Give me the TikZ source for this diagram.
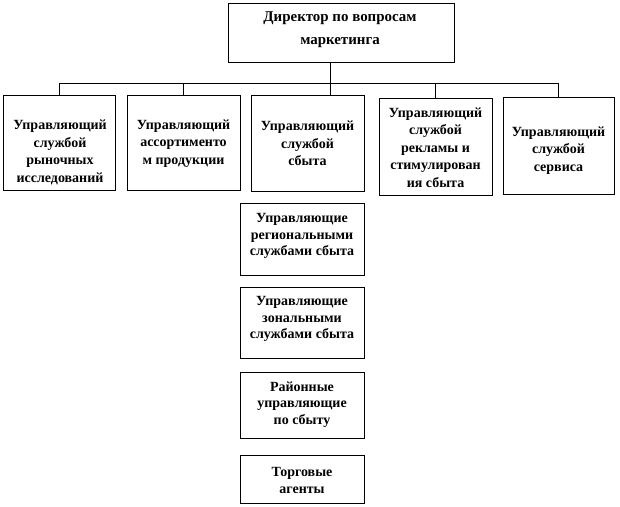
\documentclass[tikz,border=0pt]{standalone}
\usepackage{fontspec}
\setmainfont{Liberation Serif}
\begin{document}
\begin{tikzpicture}[x=0.75pt,y=-0.75pt,
  box/.style={draw,line width=0.7pt,inner sep=0pt},
  txt/.style={align=center,inner sep=0pt,font=\fontsize{10.5}{13.2}\selectfont\bfseries},
  ltxt/.style={txt,font=\fontsize{10.5}{12.4}\selectfont\bfseries},
  conn/.style={line width=0.7pt}]
\useasboundingbox (0,0) rectangle (620,506);
% boxes
\node[box,minimum width=169.5pt,minimum height=44.25pt] (d) at (341,32.5) {};
\node[box,minimum width=84pt,minimum height=71.25pt] (b1) at (59,142.5) {};
\node[box,minimum width=84.75pt,minimum height=71.25pt] (b2) at (183.5,143) {};
\node[box,minimum width=84.75pt,minimum height=72pt] (b3) at (307.5,143) {};
\node[box,minimum width=84.75pt,minimum height=72.75pt] (b4) at (435.5,146.5) {};
\node[box,minimum width=83.25pt,minimum height=72.75pt] (b5) at (558.5,145.5) {};
\node[box,minimum width=93pt,minimum height=54pt] (l1) at (302,239) {};
\node[box,minimum width=93pt,minimum height=53.25pt] (l2) at (302,322.5) {};
\node[box,minimum width=93pt,minimum height=49.5pt] (l3) at (302,405) {};
\node[box,minimum width=93pt,minimum height=36pt] (l4) at (302,479) {};
% texts
\node[txt,font=\fontsize{11.2}{17.2}\selectfont\bfseries] (dt) at (340,30) {Директор по вопросам\\маркетинга};
\node[txt] (b1t) at (60,152.5) {Управляющий\\службой\\рыночных\\исследований};
\node[txt] (b2t) at (183.5,143.5) {Управляющий\\ассортименто\\м продукции};
\node[txt] (b3t) at (307.5,143.5) {Управляющий\\службой\\сбыта};
\node[txt] (b4t) at (435.5,147.5) {Управляющий\\службой\\рекламы и\\стимулирован\\ия сбыта};
\node[txt] (b5t) at (558.5,150.5) {Управляющий\\службой\\сервиса};
\node[ltxt] (l1t) at (302,236) {Управляющие\\региональными\\службами сбыта};
\node[ltxt] (l2t) at (302,319) {Управляющие\\зональными\\службами сбыта};
\node[ltxt] (l3t) at (302,404.5) {Районные\\управляющие\\по сбыту};
\node[ltxt] (l4t) at (302,480.5) {Торговые\\агенты};
% connectors
\coordinate (bus) at (330,83);
\draw[conn] (d.south -| bus) -- (bus);
\draw[conn] (b1.north |- bus) -- (b5.north |- bus);
\draw[conn] (b1.north) -- (b1.north |- bus);
\draw[conn] (b2.north) -- (b2.north |- bus);
\draw[conn] (b3.north -| bus) -- (bus);
\draw[conn] (b4.north) -- (b4.north |- bus);
\draw[conn] (b5.north) -- (b5.north |- bus);
\end{tikzpicture}
\end{document}
